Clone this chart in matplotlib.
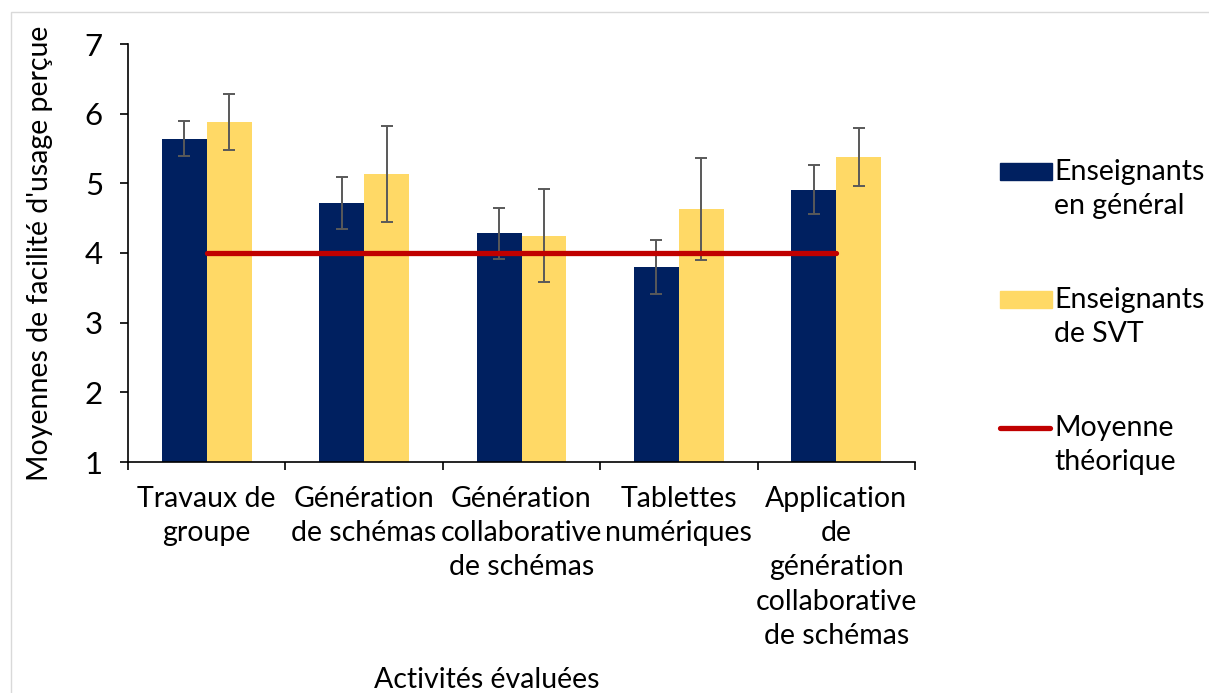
import numpy as np
import matplotlib
matplotlib.use("Agg")
from matplotlib import pyplot as plt
from matplotlib.patches import Rectangle
from matplotlib.lines import Line2D

# Data
categories = ["Travaux de\ngroupe", "Génération\nde schémas",
              "Génération\ncollaborative\nde schémas", "Tablettes\nnumériques",
              "Application\nde\ngénération\ncollaborative\nde schémas"]
general_means = [5.64, 4.72, 4.28, 3.80, 4.91]
general_err = [0.25, 0.37, 0.36, 0.39, 0.35]
svt_means = [5.88, 5.13, 4.25, 4.63, 5.38]
svt_err = [0.40, 0.69, 0.67, 0.73, 0.42]
theoretical_mean = [4, 4, 4, 4, 4]
series_labels = ["Enseignants\nen général", "Enseignants\nde SVT", "Moyenne\nthéorique"]

NAVY = "#002060"
GOLD = "#FFD966"
RED = "#C00000"
GREY = "#595959"

plt.rcParams['font.family'] = ['Lato', 'DejaVu Sans']
FS = 20.5

W, H = 1209, 693
fig = plt.figure(figsize=(W / 100, H / 100), dpi=100)
ax = fig.add_axes([128 / W, 1 - 462 / H, (915 - 128) / W, (462 - 44) / H])

x = np.arange(len(categories))
bw = 0.285
err_kw = dict(ecolor=GREY, elinewidth=1.4, capsize=4, capthick=1.4)
ax.bar(x - bw / 2, np.array(general_means) - 1, bw, bottom=1, color=NAVY,
       yerr=general_err, error_kw=err_kw, zorder=2)
ax.bar(x + bw / 2, np.array(svt_means) - 1, bw, bottom=1, color=GOLD,
       yerr=svt_err, error_kw=err_kw, zorder=2)
ax.plot(x, theoretical_mean, color=RED, lw=3.8, solid_capstyle='round', zorder=3)

ax.set_xlim(-0.5, len(categories) - 0.5)
ax.set_ylim(1, 7)
ax.set_yticks(range(1, 8))
ax.set_xticks(x)
ax.set_xticklabels(categories, fontsize=FS, linespacing=1.4)
ax.set_xticks(np.arange(-0.5, len(categories)), minor=True)
ax.tick_params(axis='x', which='major', length=0, pad=17)
ax.tick_params(axis='x', which='minor', length=6, width=1.2, direction='out')
ax.tick_params(axis='y', length=6, width=1.2, labelsize=FS + 2, pad=12)
for s in ['top', 'right']:
    ax.spines[s].set_visible(False)
for s in ['left', 'bottom']:
    ax.spines[s].set_linewidth(1.2)

fig.text(40 / W, 1 - 253 / H, "Moyennes de facilité d'usage perçue", fontsize=FS,
         rotation=90, ha='center', va='center')
fig.text(487 / W, 1 - 680 / H, "Activités évaluées", fontsize=FS,
         ha='center', va='center')

# Legend drawn by hand so the key sits beside the first line of each label
leg_tops = [172, 300, 428]
for i, (lab, yy) in enumerate(zip(series_labels, leg_tops)):
    if i < 2:
        fig.add_artist(Rectangle((1000 / W, 1 - (yy + 8) / H), 52 / W, 17 / H,
                                 transform=fig.transFigure,
                                 color=[NAVY, GOLD][i]))
    else:
        fig.add_artist(Line2D([1000 / W, 1050 / W], [1 - yy / H] * 2,
                              transform=fig.transFigure, color=RED, lw=3.8,
                              solid_capstyle='round'))
    fig.text(1054 / W, 1 - (yy - 13) / H, lab, fontsize=FS, va='top',
             ha='left', linespacing=1.4)

# Chart area border
fig.add_artist(Rectangle((11 / W, -0.1), 1.2, 1 - 12 / H + 0.1,
                         transform=fig.transFigure, fill=False,
                         edgecolor="#D9D9D9", lw=1))

fig.savefig("out.png", dpi=100)
